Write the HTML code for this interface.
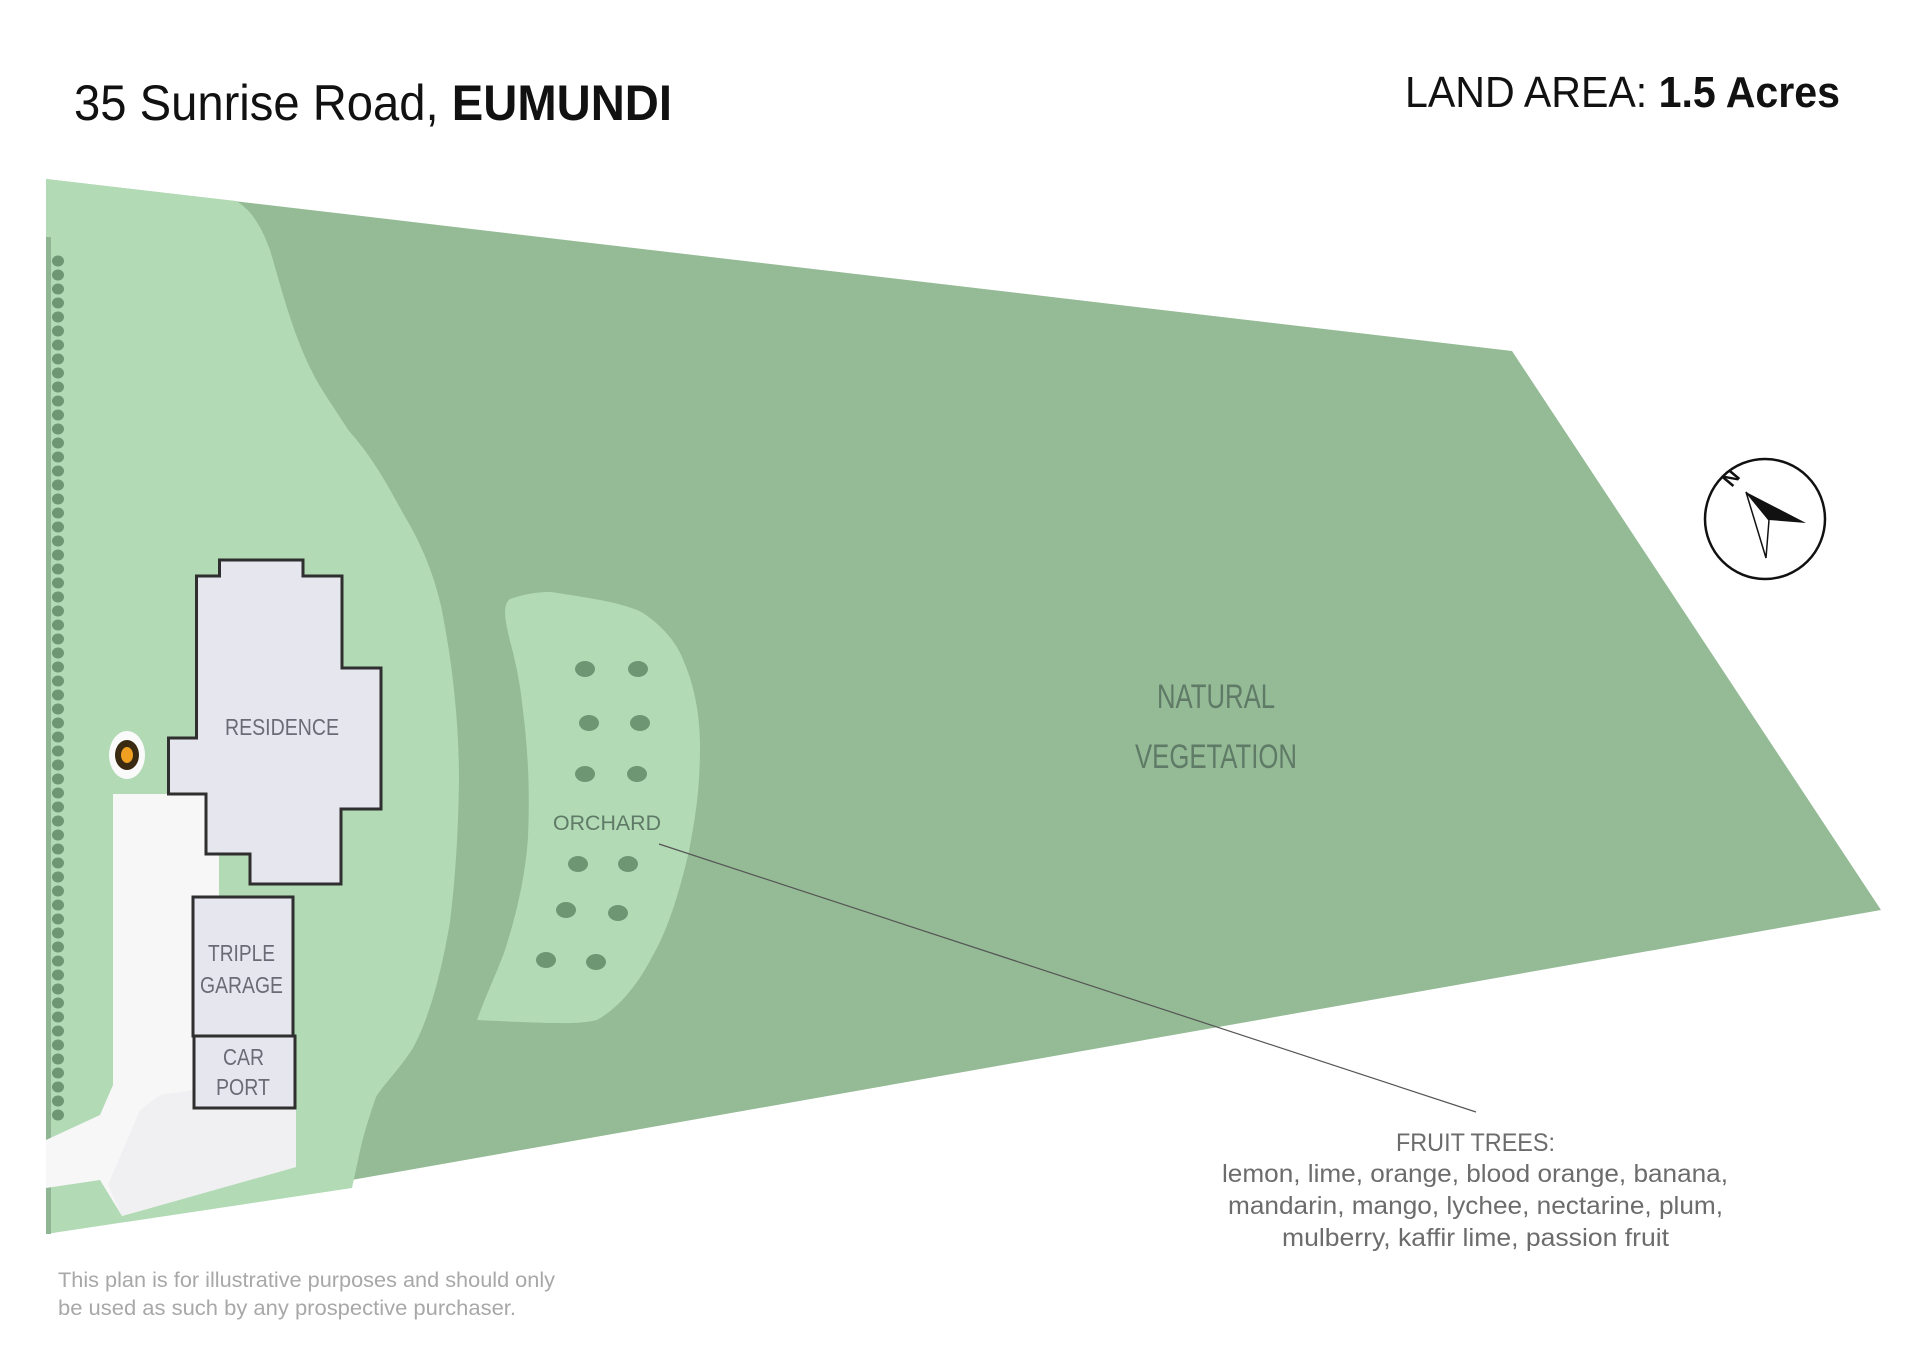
<!DOCTYPE html>
<html><head><meta charset="utf-8"><style>html,body{margin:0;padding:0;background:#fff}svg{display:block}</style></head>
<body>
<svg width="1920" height="1357" viewBox="0 0 1920 1357" xmlns="http://www.w3.org/2000/svg" font-family="Liberation Sans, sans-serif">
<rect width="1920" height="1357" fill="#fff"/>
<text x="74" y="120" font-size="50" fill="#111" textLength="598" lengthAdjust="spacingAndGlyphs">35 Sunrise Road, <tspan font-weight="bold">EUMUNDI</tspan></text>
<text x="1405" y="107" font-size="44" fill="#111" textLength="435" lengthAdjust="spacingAndGlyphs">LAND AREA: <tspan font-weight="bold">1.5 Acres</tspan></text>
<polygon points="46,179 1512,351 1881,910 46,1234" fill="#94bb95"/>
<path d="M46,179 L236,201 C252,210 262,228 270,250 C282,290 295,345 321,388 C335,410 342,420 349,431 C375,460 390,490 404,515 C425,550 435,580 441,606 C452,660 459,720 459,781 C458,840 455,880 450,922 C440,980 428,1020 413,1048 C395,1075 383,1085 376,1097 C368,1120 362,1140 358,1160 L352,1188 L46,1234 Z" fill="#b2dab5"/>
<rect x="46" y="237" width="5" height="997" fill="#8fb592"/>
<path d="M113,794 L219,794 L219,897 L194,897 L194,1108 L296,1108 L296,1167 L122,1216 L100,1180 L46,1188 L46,1140 L100,1115 L113,1085 Z" fill="#f7f7f8"/>
<path d="M194,1090 L296,1108 L296,1167 L122,1216 L108,1185 L140,1110 L160,1095 Z" fill="#f0f0f2"/>
<polygon points="219.5,560 303,560 303,576 342,576 342,668 381,668 381,809 341,809 341,884 250,884 250,854 206,854 206,794 168.5,794 168.5,738 196.5,738 196.5,576 219.5,576" fill="#e6e6ee" stroke="#2f2f2f" stroke-width="3"/>
<rect x="193" y="897" width="100" height="139" fill="#e6e6ee" stroke="#2f2f2f" stroke-width="3"/>
<rect x="194" y="1036" width="101" height="72" fill="#e6e6ee" stroke="#2f2f2f" stroke-width="3"/>
<g fill="#6b6b75" font-size="23">
<text x="225" y="735" textLength="114" lengthAdjust="spacingAndGlyphs">RESIDENCE</text>
<text x="208" y="961" textLength="67" lengthAdjust="spacingAndGlyphs">TRIPLE</text>
<text x="200" y="993" textLength="83" lengthAdjust="spacingAndGlyphs">GARAGE</text>
<text x="223" y="1065" textLength="41" lengthAdjust="spacingAndGlyphs">CAR</text>
<text x="216" y="1095" textLength="54" lengthAdjust="spacingAndGlyphs">PORT</text>
</g>
<ellipse cx="127" cy="755" rx="18" ry="24" fill="#fafafa"/>
<ellipse cx="127" cy="755" rx="12" ry="15" fill="#3a2a12"/>
<ellipse cx="127" cy="755" rx="6" ry="8" fill="#f0a020"/>
<path d="M510,599 C530,592 545,592 551,592 C590,598 625,603 643,613 C665,628 678,645 684,662 C696,690 700,720 700,746 C700,790 695,820 689,851 C680,890 668,930 652,957 C635,990 615,1010 597,1020 C580,1024 565,1023 551,1023 C520,1022 495,1021 477,1020 C488,990 498,970 505,950 C518,910 526,870 528,837 C530,790 528,750 523,711 C520,680 515,660 510,641 C505,620 502,605 510,599 Z" fill="#b2dab5"/>
<g fill="#6f9673">
<ellipse cx="585" cy="669" rx="10" ry="8"/><ellipse cx="638" cy="669" rx="10" ry="8"/>
<ellipse cx="589" cy="723" rx="10" ry="8"/><ellipse cx="640" cy="723" rx="10" ry="8"/>
<ellipse cx="585" cy="774" rx="10" ry="8"/><ellipse cx="637" cy="774" rx="10" ry="8"/>
<ellipse cx="578" cy="864" rx="10" ry="8"/><ellipse cx="628" cy="864" rx="10" ry="8"/>
<ellipse cx="566" cy="910" rx="10" ry="8"/><ellipse cx="618" cy="913" rx="10" ry="8"/>
<ellipse cx="546" cy="960" rx="10" ry="8"/><ellipse cx="596" cy="962" rx="10" ry="8"/>
</g>
<text x="553" y="830" font-size="21" fill="#5f7a66" textLength="108" lengthAdjust="spacingAndGlyphs">ORCHARD</text>
<line x1="659" y1="844" x2="1476" y2="1112" stroke="#555" stroke-width="1.2"/>
<g fill="#5f7a66" font-size="34">
<text x="1157" y="708" textLength="118" lengthAdjust="spacingAndGlyphs">NATURAL</text>
<text x="1135" y="768" textLength="162" lengthAdjust="spacingAndGlyphs">VEGETATION</text>
</g>
<g fill="#6c6c6c" font-size="25">
<text x="1396" y="1151" textLength="159" lengthAdjust="spacingAndGlyphs">FRUIT TREES:</text>
<text x="1222" y="1182" textLength="506" lengthAdjust="spacingAndGlyphs">lemon, lime, orange, blood orange, banana,</text>
<text x="1228" y="1214" textLength="495" lengthAdjust="spacingAndGlyphs">mandarin, mango, lychee, nectarine, plum,</text>
<text x="1282" y="1246" textLength="387" lengthAdjust="spacingAndGlyphs">mulberry, kaffir lime, passion fruit</text>
</g>
<g fill="#a8a8a8" font-size="21">
<text x="58" y="1287" textLength="497" lengthAdjust="spacingAndGlyphs">This plan is for illustrative purposes and should only</text>
<text x="58" y="1315" textLength="458" lengthAdjust="spacingAndGlyphs">be used as such by any prospective purchaser.</text>
</g>
<circle cx="1765" cy="519" r="60" fill="#fff" stroke="#111" stroke-width="2.5"/>
<polygon points="1746,492 1806,523 1769,520" fill="#111"/>
<polygon points="1746,492 1769,520 1766,558" fill="#fff" stroke="#111" stroke-width="1.5"/>
<text x="1731" y="485" font-size="20" font-weight="bold" fill="#111" text-anchor="middle" transform="rotate(-50 1731 478)">N</text>
<path fill="#6f9673" d="
M52,261a6,5.5 0 1,0 12,0a6,5.5 0 1,0 -12,0
M52,275a6,5.5 0 1,0 12,0a6,5.5 0 1,0 -12,0
M52,289a6,5.5 0 1,0 12,0a6,5.5 0 1,0 -12,0
M52,303a6,5.5 0 1,0 12,0a6,5.5 0 1,0 -12,0
M52,317a6,5.5 0 1,0 12,0a6,5.5 0 1,0 -12,0
M52,331a6,5.5 0 1,0 12,0a6,5.5 0 1,0 -12,0
M52,345a6,5.5 0 1,0 12,0a6,5.5 0 1,0 -12,0
M52,359a6,5.5 0 1,0 12,0a6,5.5 0 1,0 -12,0
M52,373a6,5.5 0 1,0 12,0a6,5.5 0 1,0 -12,0
M52,387a6,5.5 0 1,0 12,0a6,5.5 0 1,0 -12,0
M52,401a6,5.5 0 1,0 12,0a6,5.5 0 1,0 -12,0
M52,415a6,5.5 0 1,0 12,0a6,5.5 0 1,0 -12,0
M52,429a6,5.5 0 1,0 12,0a6,5.5 0 1,0 -12,0
M52,443a6,5.5 0 1,0 12,0a6,5.5 0 1,0 -12,0
M52,457a6,5.5 0 1,0 12,0a6,5.5 0 1,0 -12,0
M52,471a6,5.5 0 1,0 12,0a6,5.5 0 1,0 -12,0
M52,485a6,5.5 0 1,0 12,0a6,5.5 0 1,0 -12,0
M52,499a6,5.5 0 1,0 12,0a6,5.5 0 1,0 -12,0
M52,513a6,5.5 0 1,0 12,0a6,5.5 0 1,0 -12,0
M52,527a6,5.5 0 1,0 12,0a6,5.5 0 1,0 -12,0
M52,541a6,5.5 0 1,0 12,0a6,5.5 0 1,0 -12,0
M52,555a6,5.5 0 1,0 12,0a6,5.5 0 1,0 -12,0
M52,569a6,5.5 0 1,0 12,0a6,5.5 0 1,0 -12,0
M52,583a6,5.5 0 1,0 12,0a6,5.5 0 1,0 -12,0
M52,597a6,5.5 0 1,0 12,0a6,5.5 0 1,0 -12,0
M52,611a6,5.5 0 1,0 12,0a6,5.5 0 1,0 -12,0
M52,625a6,5.5 0 1,0 12,0a6,5.5 0 1,0 -12,0
M52,639a6,5.5 0 1,0 12,0a6,5.5 0 1,0 -12,0
M52,653a6,5.5 0 1,0 12,0a6,5.5 0 1,0 -12,0
M52,667a6,5.5 0 1,0 12,0a6,5.5 0 1,0 -12,0
M52,681a6,5.5 0 1,0 12,0a6,5.5 0 1,0 -12,0
M52,695a6,5.5 0 1,0 12,0a6,5.5 0 1,0 -12,0
M52,709a6,5.5 0 1,0 12,0a6,5.5 0 1,0 -12,0
M52,723a6,5.5 0 1,0 12,0a6,5.5 0 1,0 -12,0
M52,737a6,5.5 0 1,0 12,0a6,5.5 0 1,0 -12,0
M52,751a6,5.5 0 1,0 12,0a6,5.5 0 1,0 -12,0
M52,765a6,5.5 0 1,0 12,0a6,5.5 0 1,0 -12,0
M52,779a6,5.5 0 1,0 12,0a6,5.5 0 1,0 -12,0
M52,793a6,5.5 0 1,0 12,0a6,5.5 0 1,0 -12,0
M52,807a6,5.5 0 1,0 12,0a6,5.5 0 1,0 -12,0
M52,821a6,5.5 0 1,0 12,0a6,5.5 0 1,0 -12,0
M52,835a6,5.5 0 1,0 12,0a6,5.5 0 1,0 -12,0
M52,849a6,5.5 0 1,0 12,0a6,5.5 0 1,0 -12,0
M52,863a6,5.5 0 1,0 12,0a6,5.5 0 1,0 -12,0
M52,877a6,5.5 0 1,0 12,0a6,5.5 0 1,0 -12,0
M52,891a6,5.5 0 1,0 12,0a6,5.5 0 1,0 -12,0
M52,905a6,5.5 0 1,0 12,0a6,5.5 0 1,0 -12,0
M52,919a6,5.5 0 1,0 12,0a6,5.5 0 1,0 -12,0
M52,933a6,5.5 0 1,0 12,0a6,5.5 0 1,0 -12,0
M52,947a6,5.5 0 1,0 12,0a6,5.5 0 1,0 -12,0
M52,961a6,5.5 0 1,0 12,0a6,5.5 0 1,0 -12,0
M52,975a6,5.5 0 1,0 12,0a6,5.5 0 1,0 -12,0
M52,989a6,5.5 0 1,0 12,0a6,5.5 0 1,0 -12,0
M52,1003a6,5.5 0 1,0 12,0a6,5.5 0 1,0 -12,0
M52,1017a6,5.5 0 1,0 12,0a6,5.5 0 1,0 -12,0
M52,1031a6,5.5 0 1,0 12,0a6,5.5 0 1,0 -12,0
M52,1045a6,5.5 0 1,0 12,0a6,5.5 0 1,0 -12,0
M52,1059a6,5.5 0 1,0 12,0a6,5.5 0 1,0 -12,0
M52,1073a6,5.5 0 1,0 12,0a6,5.5 0 1,0 -12,0
M52,1087a6,5.5 0 1,0 12,0a6,5.5 0 1,0 -12,0
M52,1101a6,5.5 0 1,0 12,0a6,5.5 0 1,0 -12,0
M52,1115a6,5.5 0 1,0 12,0a6,5.5 0 1,0 -12,0
"/>
</svg>
</body></html>
